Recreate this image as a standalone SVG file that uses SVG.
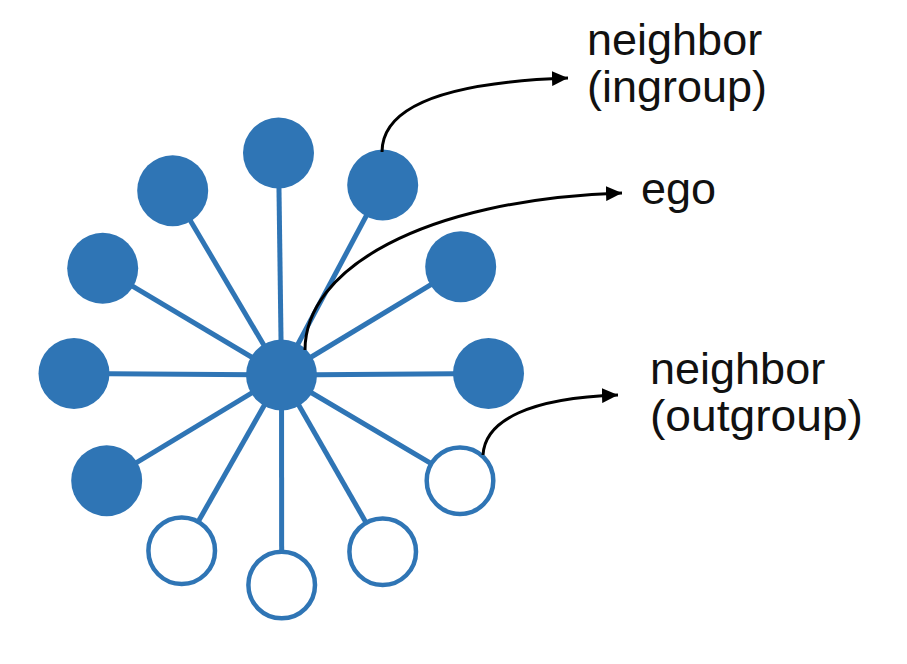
<svg xmlns="http://www.w3.org/2000/svg" width="907" height="664" viewBox="0 0 907 664">
<style>
.spoke{stroke:#2F75B5;stroke-width:5;fill:none}
.full{fill:#2F75B5}
.hollow{fill:#fff;stroke:#2F75B5;stroke-width:4.5}
.arrow{stroke:#000;stroke-width:3;fill:none}
.lbl{font-family:"Liberation Sans",Arial,sans-serif;font-size:45px;fill:#111}
</style>
<defs>
<marker id="ah" markerUnits="userSpaceOnUse" markerWidth="17" markerHeight="15" refX="16" refY="7.5" orient="auto">
<path d="M0,0 L16,7.5 L0,15 z" fill="#000"/>
</marker>
</defs>
<rect width="907" height="664" fill="#fff"/>
<g id="connectors">
<line class="spoke" x1="281.5" y1="375" x2="278.5" y2="153"/>
<line class="spoke" x1="281.5" y1="375" x2="172.7" y2="190.7"/>
<line class="spoke" x1="281.5" y1="375" x2="382.7" y2="185"/>
<line class="spoke" x1="281.5" y1="375" x2="102.7" y2="268.3"/>
<line class="spoke" x1="281.5" y1="375" x2="460.7" y2="266.7"/>
<line class="spoke" x1="281.5" y1="375" x2="74" y2="373.5"/>
<line class="spoke" x1="281.5" y1="375" x2="488.5" y2="373.5"/>
<line class="spoke" x1="281.5" y1="375" x2="106.7" y2="480.7"/>
<line class="spoke" x1="281.5" y1="375" x2="460" y2="480.7"/>
<line class="spoke" x1="281.5" y1="375" x2="181.7" y2="550.7"/>
<line class="spoke" x1="281.5" y1="375" x2="382.7" y2="551.7"/>
<line class="spoke" x1="281.5" y1="375" x2="281.7" y2="585"/>
</g>
<g id="ego"><circle class="full" cx="281.5" cy="375" r="35.5"/></g>
<g id="n1"><circle class="full" cx="278.5" cy="153" r="35.5"/></g>
<g id="n2"><circle class="full" cx="172.7" cy="190.7" r="35.5"/></g>
<g id="n3"><circle class="full" cx="382.7" cy="185" r="35.5"/></g>
<g id="n4"><circle class="full" cx="102.7" cy="268.3" r="35.5"/></g>
<g id="n5"><circle class="full" cx="460.7" cy="266.7" r="35.5"/></g>
<g id="n6"><circle class="full" cx="74" cy="373.5" r="35.5"/></g>
<g id="n7"><circle class="full" cx="488.5" cy="373.5" r="35.5"/></g>
<g id="n8"><circle class="full" cx="106.7" cy="480.7" r="35.5"/></g>
<g id="h1"><circle class="hollow" cx="460" cy="480.7" r="33.3"/></g>
<g id="h2"><circle class="hollow" cx="181.7" cy="550.7" r="33.3"/></g>
<g id="h3"><circle class="hollow" cx="382.7" cy="551.7" r="33.3"/></g>
<g id="h4"><circle class="hollow" cx="281.7" cy="585" r="33.3"/></g>
<g id="callouts">
<path class="arrow" d="M382,152 C382,105 450,82 568,78" marker-end="url(#ah)"/>
<path class="arrow" d="M305,350 C305,270 420,200 622,193" marker-end="url(#ah)"/>
<path class="arrow" d="M483,455 C485,420 530,398 618,395" marker-end="url(#ah)"/>
</g>
<g id="labels">
<text class="lbl" x="587" y="55">neighbor</text>
<text class="lbl" x="587" y="102">(ingroup)</text>
<text class="lbl" x="641" y="204">ego</text>
<text class="lbl" x="650" y="384">neighbor</text>
<text class="lbl" x="650" y="431" textLength="213" lengthAdjust="spacingAndGlyphs">(outgroup)</text>
</g>
</svg>
